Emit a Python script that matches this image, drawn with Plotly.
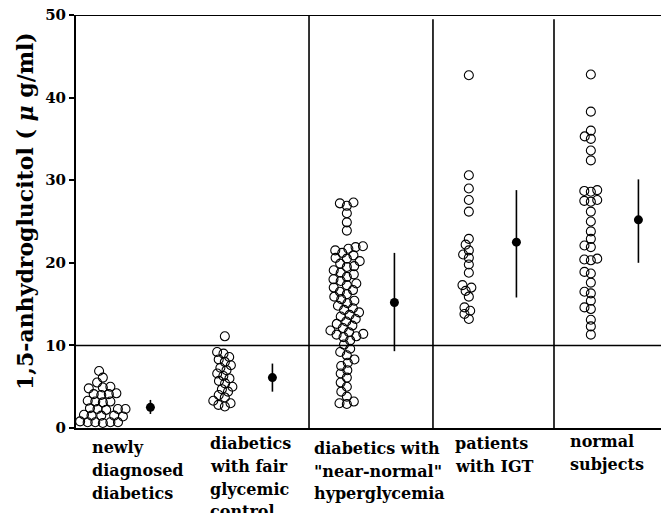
import math
import plotly.graph_objects as go

# ---------------- data ----------------
group_labels = [
    ["newly", "diagnosed", "diabetics"],
    ["diabetics", "with fair", "glycemic", "control"],
    ["diabetics with", "\"near-normal\"", "hyperglycemia"],
    ["patients", "with IGT"],
    ["normal", "subjects"],
]

newly_diagnosed = [6.9, 6.1, 5.5,
                   5.0, 4.9, 4.8,
                   4.2, 4.1, 4.1, 4.0,
                   3.3, 3.2, 3.2, 3.1,
                   2.4, 2.3, 2.3, 2.3, 2.2,
                   1.6, 1.5, 1.5, 1.5, 1.4,
                   0.8, 0.7, 0.7, 0.7, 0.7, 0.6]
fair_control = [11.1, 9.2, 9.0, 8.6, 8.3, 8.0, 7.6, 7.3, 7.0, 6.6, 6.3, 6.0, 5.7,
                5.4, 5.0, 4.7, 4.4, 4.0, 3.7, 3.3, 3.0, 2.8, 2.6]
near_normal = [27.3, 27.2, 26.9, 26.0, 24.9, 23.9,
               22.0, 21.9, 21.7, 21.5, 21.2, 20.9, 20.6, 20.5, 20.2, 19.9, 19.6,
               19.5, 19.1, 18.8, 18.6, 18.3, 18.0, 17.8, 17.5, 17.3, 17.0, 16.7,
               16.5, 16.2, 15.9, 15.6, 15.4, 15.1, 14.8, 14.5, 14.3, 14.0, 13.7,
               13.5, 13.2, 12.9, 12.6, 12.4, 12.1, 11.8, 11.6, 11.4, 11.3, 11.1,
               11.0, 10.6, 10.1, 9.6, 9.2, 8.8, 8.3, 7.9, 7.5, 7.0, 6.6, 6.1, 5.5,
               5.0, 4.4, 3.8, 3.2, 3.0, 2.9]
igt = [42.7, 30.6, 29.0, 27.6, 26.2, 22.9, 22.2, 21.5, 21.0, 20.6, 19.8, 18.8,
       17.3, 17.0, 16.6, 15.9, 14.6, 14.2, 13.8, 13.2]
normal = [42.8, 38.3, 36.0, 35.3, 35.0, 33.6, 32.4,
          28.8, 28.7, 28.6, 27.6, 27.5, 27.4, 26.2, 25.0, 23.8, 22.9, 22.1, 21.9,
          20.5, 20.4, 20.3, 18.9, 18.7, 17.6, 16.5, 16.3, 15.4, 14.6, 14.4,
          13.1, 12.3, 11.3]

groups = [newly_diagnosed, fair_control, near_normal, igt, normal]
means = [2.5, 6.1, 15.2, 22.5, 25.2]
upper = [3.4, 7.8, 21.2, 28.8, 30.1]
lower = [1.7, 4.4, 9.3, 15.8, 20.0]

y_ticks = [0, 10, 20, 30, 40, 50]
y_title = "1,5-anhydroglucitol ( <i>μ</i> g/ml)"

# ---------------- layout geometry ----------------
W, H = 661, 513
ML, MR, MT, MB = 76, 0, 15, 85
PW, PH = W - ML - MR, H - MT - MB
X0, X1 = 0.78, 0.78 + PW / 122.0
Y0, Y1 = 0, 50
xsc = PW / (X1 - X0)        # px per x unit
ysc = PH / (Y1 - Y0)        # px per y unit
mean_offset = 0.39
dividers = [(2.69, 50), (3.706, 49.5), (4.698, 49.5)]
swarm_gap = [7.6, 6.6, 7.4, 6.6, 6.6]
FONT = "DejaVu Serif"


def beeswarm(vals, d):
    order = sorted(range(len(vals)), key=lambda i: vals[i])
    placed = []
    offs = [0.0] * len(vals)
    for i in order:
        y = vals[i] * ysc
        cands = [0.0]
        for px, py in placed:
            dy = abs(py - y)
            if dy < d:
                dx = math.sqrt(d * d - dy * dy)
                cands += [px + dx, px - dx]
        cands.sort(key=lambda c: (round(abs(c), 6), c))
        x = 0.0
        for c in cands:
            if all((c - px) ** 2 + (y - py) ** 2 >= d * d - 1e-6 for px, py in placed):
                x = c
                break
        placed.append((x, y))
        offs[i] = x / xsc
    return offs


fig = go.Figure()

for gi, vals in enumerate(groups):
    offs = beeswarm(vals, swarm_gap[gi])
    fig.add_trace(go.Scatter(
        x=[gi + 1 + o for o in offs], y=vals, mode="markers",
        marker=dict(symbol="circle-open", size=9, color="black",
                    line=dict(width=1.1, color="black")),
        cliponaxis=False, showlegend=False, hoverinfo="y"))

fig.add_trace(go.Scatter(
    x=[i + 1 + mean_offset for i in range(len(means))], y=means, mode="markers",
    marker=dict(symbol="circle", size=9, color="black"),
    error_y=dict(type="data", symmetric=False,
                 array=[u - m for u, m in zip(upper, means)],
                 arrayminus=[m - l for m, l in zip(means, lower)],
                 width=0, thickness=1.6, color="black"),
    cliponaxis=False, showlegend=False))

shapes = [
    dict(type="line", xref="x", yref="y", x0=X0, x1=X1, y0=50, y1=50,
         line=dict(color="black", width=2)),
    dict(type="line", xref="x", yref="y", x0=X0, x1=X1, y0=10, y1=10,
         line=dict(color="black", width=1.5)),
]
for xd, ytop in dividers:
    shapes.append(dict(type="line", xref="x", yref="y", x0=xd, x1=xd, y0=0, y1=ytop,
                       line=dict(color="black", width=1.6)))

annotations = []
label_left = [90, 208, 312, 453, 568]
label_top = [447, 443, 448, 443, 441]
line_gap = 23
for lines, lx, ly in zip(group_labels, label_left, label_top):
    for k, t in enumerate(lines):
        py = ly + k * line_gap
        annotations.append(dict(
            text=t, xref="paper", yref="paper",
            x=(lx - ML) / PW, y=(H - MB - py) / PH,
            xanchor="left", yanchor="middle", showarrow=False, align="left",
            font=dict(family=FONT, size=16, color="black", weight="bold")))

annotations.append(dict(
    text=y_title, xref="paper", yref="paper",
    x=(25 - ML) / PW, y=(H - MB - 211) / PH, textangle=-90,
    xanchor="center", yanchor="middle", showarrow=False,
    font=dict(family=FONT, size=22, color="black", weight="bold")))

fig.update_layout(
    width=W, height=H,
    margin=dict(l=ML, r=MR, t=MT, b=MB, pad=0),
    paper_bgcolor="white", plot_bgcolor="white",
    shapes=shapes, annotations=annotations,
    xaxis=dict(range=[X0, X1], showgrid=False, zeroline=False, showticklabels=False,
               ticks="", showline=True, linecolor="black", linewidth=2, fixedrange=True),
    yaxis=dict(range=[Y0, Y1], tickvals=y_ticks, showgrid=False, zeroline=False,
               showline=True, linecolor="black", linewidth=2,
               ticks="outside", ticklen=5, tickwidth=2, tickcolor="black",
               tickfont=dict(family=FONT, size=15, color="black", weight="bold"),
               fixedrange=True),
)

fig.write_html(
    "out.html",
    config={"displayModeBar": False},
    post_script="document.body.style.margin='0';document.body.style.overflow='hidden';",
)
